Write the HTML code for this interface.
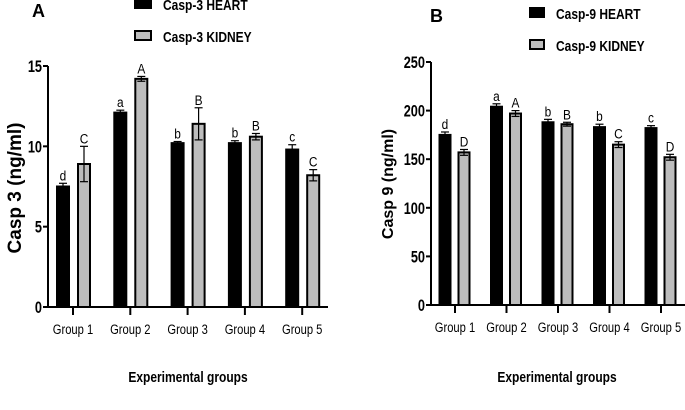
<!DOCTYPE html>
<html><head><meta charset="utf-8"><style>
body{margin:0;background:#fff}
svg{display:block;font-family:"Liberation Sans",sans-serif}
</style></head><body>
<svg id="s" width="685" height="410" viewBox="0 0 685 410"></svg>
<script>
const categories=["Group 1","Group 2","Group 3","Group 4","Group 5"];
const casp3Heart=[7.5,12.1,10.2,10.2,9.8];
const casp3HeartErr=[0.2,0.15,0.1,0.15,0.3];
const casp3Kidney=[8.9,14.2,11.4,10.6,8.2];
const casp3KidneyErr=[1.1,0.15,1.0,0.2,0.35];
const casp3HeartLetters=["d","a","b","b","c"];
const casp3KidneyLetters=["C","A","B","B","C"];
const casp3Ticks=[0,5,10,15];
const casp9Heart=[175,204,188,183,182];
const casp9HeartErr=[3,3,3,3,2.5];
const casp9Kidney=[157,197,186,165,152];
const casp9KidneyErr=[3,3,2,3,3];
const casp9HeartLetters=["d","a","b","b","c"];
const casp9KidneyLetters=["D","A","B","C","D"];
const casp9Ticks=[0,50,100,150,200,250];

const NS="http://www.w3.org/2000/svg";
const svg=document.getElementById('s');
function mk(tag,attrs,parent,text){const e=document.createElementNS(NS,tag);for(const k in attrs)e.setAttribute(k,attrs[k]);if(text!==undefined)e.textContent=text;(parent||svg).appendChild(e);return e;}
function sx(x,s){return `translate(${x},0) scale(${s},1) translate(${-x},0)`;}

function panel(cfg){
  const g=mk('g',{});
  
  
  const y=v=>cfg.y0-(v/cfg.max)*(cfg.y0-cfg.yTop);
  const xc=i=>cfg.x0+i*cfg.step;
  const ya=mk('line',{x1:cfg.ax,y1:cfg.yTop,x2:cfg.ax,y2:cfg.y0,stroke:'#000','stroke-width':2},g);
  
  const xa=mk('line',{x1:cfg.ax,y1:cfg.y0,x2:cfg.axEnd,y2:cfg.y0,stroke:'#000','stroke-width':2},g);
  
  cfg.ticks.forEach(t=>{
    mk('line',{x1:cfg.ax-5,y1:y(t),x2:cfg.ax,y2:y(t),stroke:'#000','stroke-width':2},g);
    const tl=mk('text',{x:cfg.ax-6,y:y(t)+6,'text-anchor':'end','font-size':17,'font-weight':'bold',transform:sx(cfg.ax-6,0.75)},g,String(t));
    
  });
  categories.forEach((c,i)=>{
    const x=xc(i);
    mk('line',{x1:x,y1:cfg.y0,x2:x,y2:cfg.y0+8,stroke:'#000','stroke-width':2},g);
    const tl=mk('text',{x:x,y:cfg.y0+27,'text-anchor':'middle','font-size':14,transform:sx(x,0.8)},g,c);
    
    [[cfg.heart,cfg.hErr,cfg.hL,-cfg.off1,'#000','heart'],[cfg.kidney,cfg.kErr,cfg.kL,cfg.off2,'#bdbdbd','kidney']].forEach(([vals,errs,lets,off,fill,nm])=>{
      const bx=x+off, v=vals[i], w=cfg.bw;
      const b=mk('rect',{x:bx-w/2,y:y(v),width:w,height:cfg.y0-y(v),fill:fill,stroke:'#000','stroke-width':2},g);
      
      const et=y(v+errs[i]), eb=y(v-errs[i]);
      mk('line',{x1:bx,y1:et,x2:bx,y2:nm==='kidney'?eb:y(v),stroke:'#000','stroke-width':1.2},g);
      mk('line',{x1:bx-4,y1:et,x2:bx+4,y2:et,stroke:'#000','stroke-width':1.2},g);
      if(nm==='kidney') mk('line',{x1:bx-4,y1:eb,x2:bx+4,y2:eb,stroke:'#000','stroke-width':1.2},g);
      const lt=mk('text',{x:bx,y:et-3,'text-anchor':'middle','font-size':14,transform:sx(bx,0.85)},g,lets[i]);
      
    });
  });
  const yt=mk('text',{x:0,y:0,'text-anchor':'middle','font-size':cfg.ytfs,'font-weight':'bold',transform:`translate(${cfg.ytx},${cfg.yty}) rotate(-90)`},g,cfg.ytitle);
  
  const xt=mk('text',{x:cfg.xtx,y:382,'text-anchor':'middle','font-size':15,'font-weight':'bold',transform:sx(cfg.xtx,0.8)},g,'Experimental groups');
  
  const pl=mk('text',{x:cfg.plx,y:cfg.ply,'font-size':18,'font-weight':'bold'},g,cfg.letter);
  
  [[cfg.leg[0],'#000',cfg.lh],[cfg.leg[1],'#bdbdbd',cfg.lk]].forEach(([txt,fill,ly])=>{
    const r=mk('rect',{x:cfg.lx,y:ly-5,width:cfg.lw,height:9,fill:fill,stroke:'#000','stroke-width':2},g);
    
    const tx=cfg.lx+cfg.lw+12;
    const t=mk('text',{x:tx,y:ly+6,'font-size':15,'font-weight':'bold',transform:sx(tx,0.8)},g,txt);
    
  });
}
panel({name:'chart-casp3',ax:48,axEnd:328,y0:307,yTop:66,max:15,x0:73,step:57.3,off1:10,off2:11,bw:12,
  heart:casp3Heart,hErr:casp3HeartErr,hL:casp3HeartLetters,kidney:casp3Kidney,kErr:casp3KidneyErr,kL:casp3KidneyLetters,
  ticks:casp3Ticks,ytitle:'Casp 3 (ng/ml)',ytfs:19,ytx:21,yty:188,xtx:188,letter:'A',plx:32,ply:17,leg:['Casp-3 HEART','Casp-3 KIDNEY'],lx:135,lw:16,lh:4,lk:36});
panel({name:'chart-casp9',ax:431,axEnd:685,y0:305,yTop:62,max:250,x0:455,step:51.5,off1:10,off2:9,bw:11,
  heart:casp9Heart,hErr:casp9HeartErr,hL:casp9HeartLetters,kidney:casp9Kidney,kErr:casp9KidneyErr,kL:casp9KidneyLetters,
  ticks:casp9Ticks,ytitle:'Casp 9 (ng/ml)',ytfs:16,ytx:393,yty:184,xtx:557,letter:'B',plx:430,ply:22,leg:['Casp-9 HEART','Casp-9 KIDNEY'],lx:530,lw:14,lh:13,lk:45});
</script>
</body></html>
